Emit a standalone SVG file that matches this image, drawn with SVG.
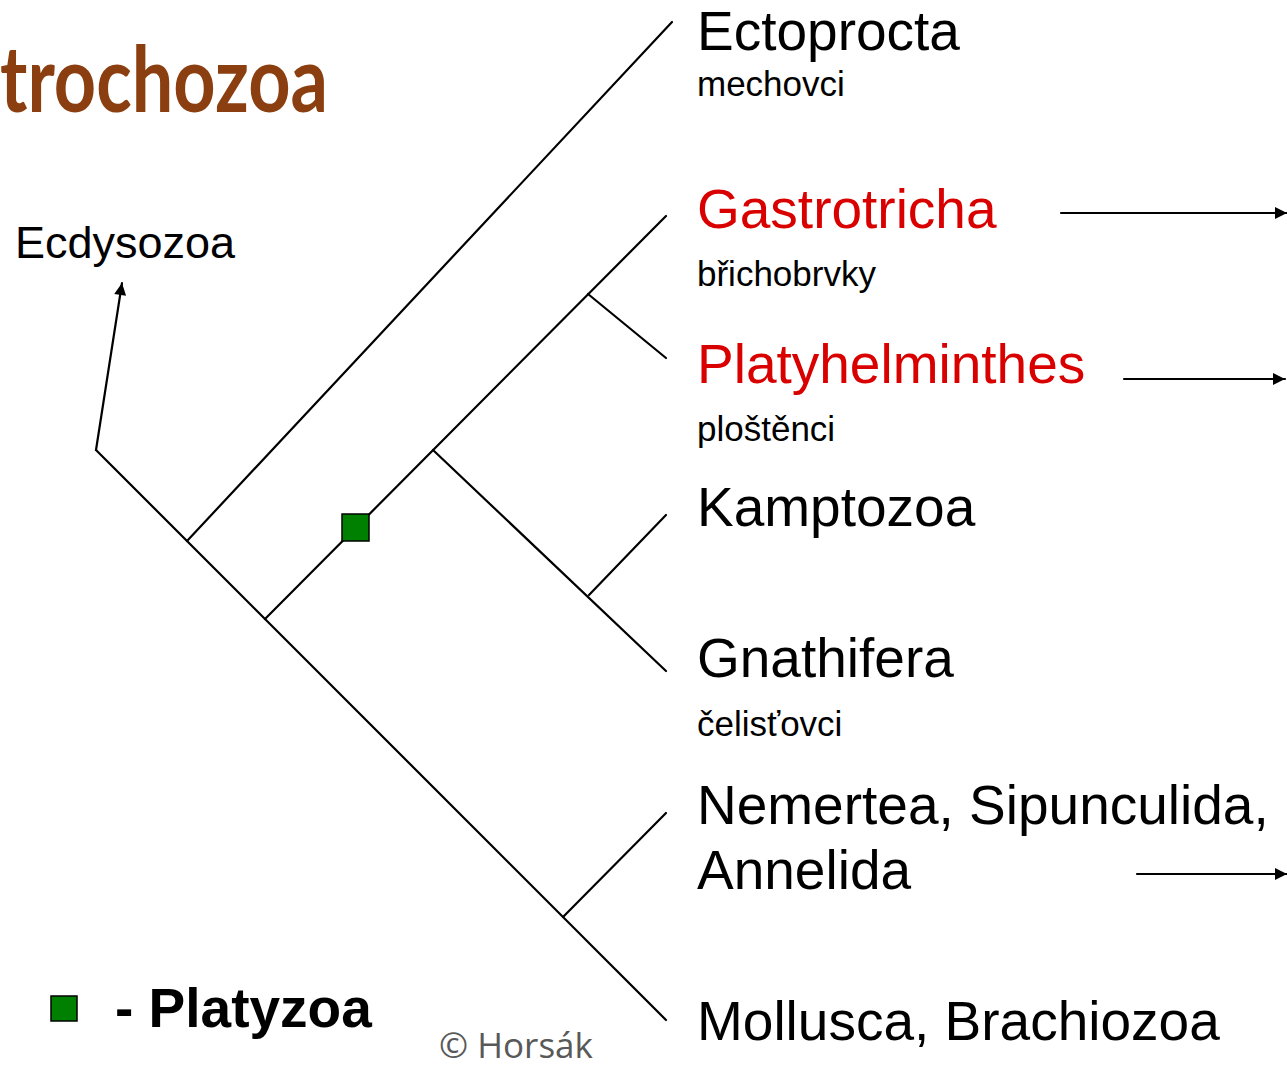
<svg xmlns="http://www.w3.org/2000/svg" width="1287" height="1066" viewBox="0 0 1287 1066">
<defs>
<style>
.ln{stroke:#000;stroke-width:2.2;fill:none;stroke-linecap:round}
.big{font-family:"Liberation Sans",Arial,sans-serif;font-size:55px;fill:#000}
.red{fill:#D90000}
.sub{font-family:"Liberation Sans",Arial,sans-serif;font-size:35px;fill:#000}
</style>
<marker id="ah" viewBox="0 0 10 10" refX="10" refY="5" markerWidth="15" markerHeight="12" markerUnits="userSpaceOnUse" orient="auto">
<path d="M0,0 L10,5 L0,10 z" fill="#000"/>
</marker>
</defs>
<rect width="1287" height="1066" fill="#fff"/>
<text x="0" y="112" font-family="Lato,'Open Sans',sans-serif" font-weight="bold" font-size="92" fill="#8B3E0F" textLength="328" lengthAdjust="spacingAndGlyphs">trochozoa</text>
<g id="connectors">
<line class="ln" x1="96" y1="450" x2="666" y2="1020"/>
<line class="ln" x1="96" y1="450" x2="122" y2="283" marker-end="url(#ah)"/>
<line class="ln" x1="187" y1="541" x2="672" y2="22"/>
<line class="ln" x1="265" y1="619" x2="666" y2="216"/>
<line class="ln" x1="588" y1="294" x2="666" y2="358"/>
<line class="ln" x1="433" y1="450" x2="666" y2="671"/>
<line class="ln" x1="589" y1="595" x2="666" y2="515"/>
<line class="ln" x1="563" y1="917" x2="666" y2="813"/>
<line class="ln" x1="1061" y1="213" x2="1287" y2="213" marker-end="url(#ah)"/>
<line class="ln" x1="1124" y1="379" x2="1285" y2="379" marker-end="url(#ah)"/>
<line class="ln" x1="1137" y1="874" x2="1287" y2="874" marker-end="url(#ah)"/>
</g>
<g id="platyzoa-mark"><rect x="342" y="514" width="27" height="27" fill="#008000" stroke="#000" stroke-width="1.5"/></g>
<g id="ecdysozoa"><text x="15" y="258" font-family="'Liberation Sans',Arial,sans-serif" font-size="45" fill="#000">Ecdysozoa</text></g>
<g id="ectoprocta"><text class="big" x="697" y="50">Ectoprocta</text><text class="sub" x="697" y="96">mechovci</text></g>
<g id="gastrotricha"><text class="big red" x="697" y="228">Gastrotricha</text><text class="sub" x="697" y="286">břichobrvky</text></g>
<g id="platyhelminthes"><text class="big red" x="697" y="383">Platyhelminthes</text><text class="sub" x="697" y="441">ploštěnci</text></g>
<g id="kamptozoa"><text class="big" x="697" y="526">Kamptozoa</text></g>
<g id="gnathifera"><text class="big" x="697" y="677">Gnathifera</text><text class="sub" x="697" y="736">čelisťovci</text></g>
<g id="nemertea"><text class="big" x="697" y="824">Nemertea, Sipunculida,</text><text class="big" x="697" y="889">Annelida</text></g>
<g id="mollusca"><text class="big" x="697" y="1040">Mollusca, Brachiozoa</text></g>
<g id="legend">
<rect x="51" y="996" width="26" height="25" fill="#008000" stroke="#000" stroke-width="1.5"/>
<text x="115" y="1027" font-family="'Liberation Sans',Arial,sans-serif" font-weight="bold" font-size="55" fill="#000">- Platyzoa</text>
</g>
<text x="439" y="1058" font-family="'Open Sans',sans-serif" font-size="35" fill="#595959">© Horsák</text>
</svg>
